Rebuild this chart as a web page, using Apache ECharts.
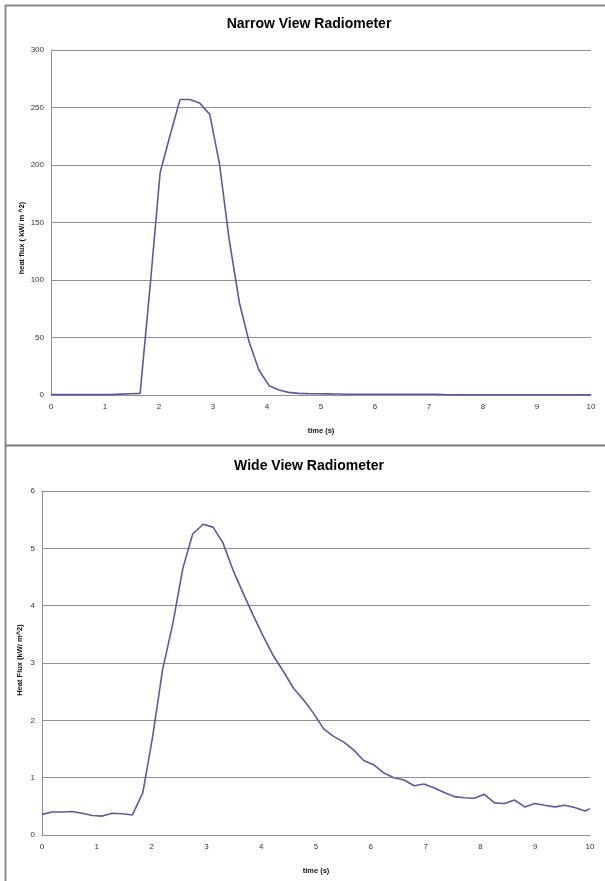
<!DOCTYPE html>
<html>
<head>
<meta charset="utf-8">
<script src="https://cdn.jsdelivr.net/npm/echarts@6/dist/echarts.min.js"></script>
<style>
  html, body { margin: 0; padding: 0; background: #ffffff; }
  #chart { width: 605px; height: 881px; }
</style>
</head>
<body>
<div id="chart"></div>
<script>
// ---- data ----
const times = [0, 0.18, 0.37, 0.55, 0.73, 0.92, 1.10, 1.28, 1.47, 1.65,
  1.84, 2.02, 2.20, 2.39, 2.57, 2.75, 2.94, 3.12, 3.30, 3.49,
  3.67, 3.85, 4.04, 4.22, 4.40, 4.59, 4.77, 4.95, 5.14, 5.32,
  5.51, 5.69, 5.87, 6.06, 6.24, 6.42, 6.61, 6.79, 6.97, 7.16,
  7.34, 7.52, 7.71, 7.89, 8.07, 8.26, 8.44, 8.62, 8.81, 8.99,
  9.17, 9.36, 9.54, 9.72, 9.91, 10.00];

const narrowFlux = [0.3, 0.3, 0.3, 0.3, 0.3, 0.3, 0.3, 0.8, 1.1, 1.4,
  97, 193, 225, 257, 257, 254, 244, 201, 135, 80,
  46, 21.7, 8.1, 4.3, 2.3, 1.4, 1.2, 1.1, 1.0, 0.9,
  0.7, 0.6, 0.6, 0.6, 0.6, 0.6, 0.6, 0.6, 0.6, 0.6,
  0.2, 0.1, 0.1, 0.1, 0.1, 0.1, 0.1, 0.1, 0.1, 0.1,
  0.1, 0.1, 0.1, 0.1, 0.1, 0.1];

const wideFlux = [0.36, 0.40, 0.40, 0.41, 0.38, 0.34, 0.33, 0.38, 0.37, 0.35,
  0.74, 1.72, 2.88, 3.70, 4.65, 5.25, 5.42, 5.37, 5.10, 4.61,
  4.22, 3.84, 3.46, 3.13, 2.86, 2.56, 2.36, 2.13, 1.85, 1.72,
  1.62, 1.48, 1.30, 1.22, 1.08, 1.00, 0.96, 0.86, 0.89, 0.82,
  0.74, 0.67, 0.65, 0.64, 0.71, 0.56, 0.55, 0.61, 0.49, 0.55,
  0.52, 0.49, 0.52, 0.48, 0.42, 0.46];

const titles = ['Narrow View Radiometer', 'Wide View Radiometer'];
const xAxisName = 'time (s)';
const yAxisNames = ['heat flux ( kW/ m ^2)', 'Heat Flux (kW/ m^2)'];
const xRange = { min: 0, max: 10, interval: 1 };
const narrowRange = { min: 0, max: 300, interval: 50 };
const wideRange = { min: 0, max: 6, interval: 1 };

// ---- chart ----
const FONT = '"Liberation Sans", Arial, sans-serif';
const GRID_COLOR = '#8f8f8f';
const LINE_COLOR = '#5a5b9d';
const chart = echarts.init(document.getElementById('chart'), null, { renderer: 'canvas' });

function xAxisCfg(gridIndex) {
  return {
    type: 'value', gridIndex: gridIndex,
    min: xRange.min, max: xRange.max, interval: xRange.interval,
    name: xAxisName, nameLocation: 'middle', nameGap: 32,
    nameTextStyle: { fontFamily: FONT, fontSize: 7.5, fontWeight: 'bold', color: '#111' },
    axisLine: { show: true, onZero: false, lineStyle: { color: GRID_COLOR, width: 1 } },
    axisTick: { show: false },
    axisLabel: { fontFamily: FONT, fontSize: 8, color: '#333', margin: 8 },
    splitLine: { show: false }
  };
}
function yAxisCfg(gridIndex, range) {
  return {
    type: 'value', gridIndex: gridIndex,
    min: range.min, max: range.max, interval: range.interval,
    axisLine: { show: true, lineStyle: { color: GRID_COLOR, width: 1 } },
    axisTick: { show: false },
    axisLabel: { fontFamily: FONT, fontSize: 8, color: '#333', margin: 7 },
    splitLine: { show: true, lineStyle: { color: GRID_COLOR, width: 1 } }
  };
}

const option = {
  backgroundColor: '#ffffff',
  animation: false,
  title: [
    { text: titles[0], left: 309, top: 17, textAlign: 'center', padding: 0,
      textStyle: { fontFamily: FONT, fontSize: 14, fontWeight: 'bold', color: '#000' } },
    { text: titles[1], left: 309, top: 459, textAlign: 'center', padding: 0,
      textStyle: { fontFamily: FONT, fontSize: 14, fontWeight: 'bold', color: '#000' } }
  ],
  grid: [
    { left: 51, right: 14, top: 50, height: 345, containLabel: false, outerBoundsMode: 'none' },
    { left: 42, right: 15, top: 491, height: 344, containLabel: false, outerBoundsMode: 'none' }
  ],
  xAxis: [xAxisCfg(0), xAxisCfg(1)],
  yAxis: [yAxisCfg(0, narrowRange), yAxisCfg(1, wideRange)],
  series: [
    { type: 'line', xAxisIndex: 0, yAxisIndex: 0, showSymbol: false, symbol: 'none',
      lineStyle: { color: LINE_COLOR, width: 1.6 }, itemStyle: { color: LINE_COLOR },
      data: times.map((t, i) => [t, narrowFlux[i]]) },
    { type: 'line', xAxisIndex: 1, yAxisIndex: 1, showSymbol: false, symbol: 'none',
      lineStyle: { color: LINE_COLOR, width: 1.6 }, itemStyle: { color: LINE_COLOR },
      data: times.map((t, i) => [t, wideFlux[i]]) }
  ],
  graphic: [
    // panel frame lines
    { type: 'line', shape: { x1: 5.5, y1: 5, x2: 5.5, y2: 881 }, style: { stroke: '#8a8a8a', lineWidth: 2 }, silent: true },
    { type: 'line', shape: { x1: 5, y1: 5.5, x2: 605, y2: 5.5 }, style: { stroke: '#8a8a8a', lineWidth: 2 }, silent: true },
    { type: 'line', shape: { x1: 5, y1: 445.5, x2: 605, y2: 445.5 }, style: { stroke: '#7a7a7a', lineWidth: 2 }, silent: true },
    // y axis titles
    { type: 'text', x: 22, y: 238, rotation: Math.PI / 2, silent: true,
      style: { text: yAxisNames[0], fontFamily: FONT, fontSize: 7.5, fontWeight: 'bold', fill: '#111',
               align: 'center', verticalAlign: 'middle' } },
    { type: 'text', x: 20, y: 660, rotation: Math.PI / 2, silent: true,
      style: { text: yAxisNames[1], fontFamily: FONT, fontSize: 7.5, fontWeight: 'bold', fill: '#111',
               align: 'center', verticalAlign: 'middle' } }
  ]
};
chart.setOption(option);
</script>
</body>
</html>
